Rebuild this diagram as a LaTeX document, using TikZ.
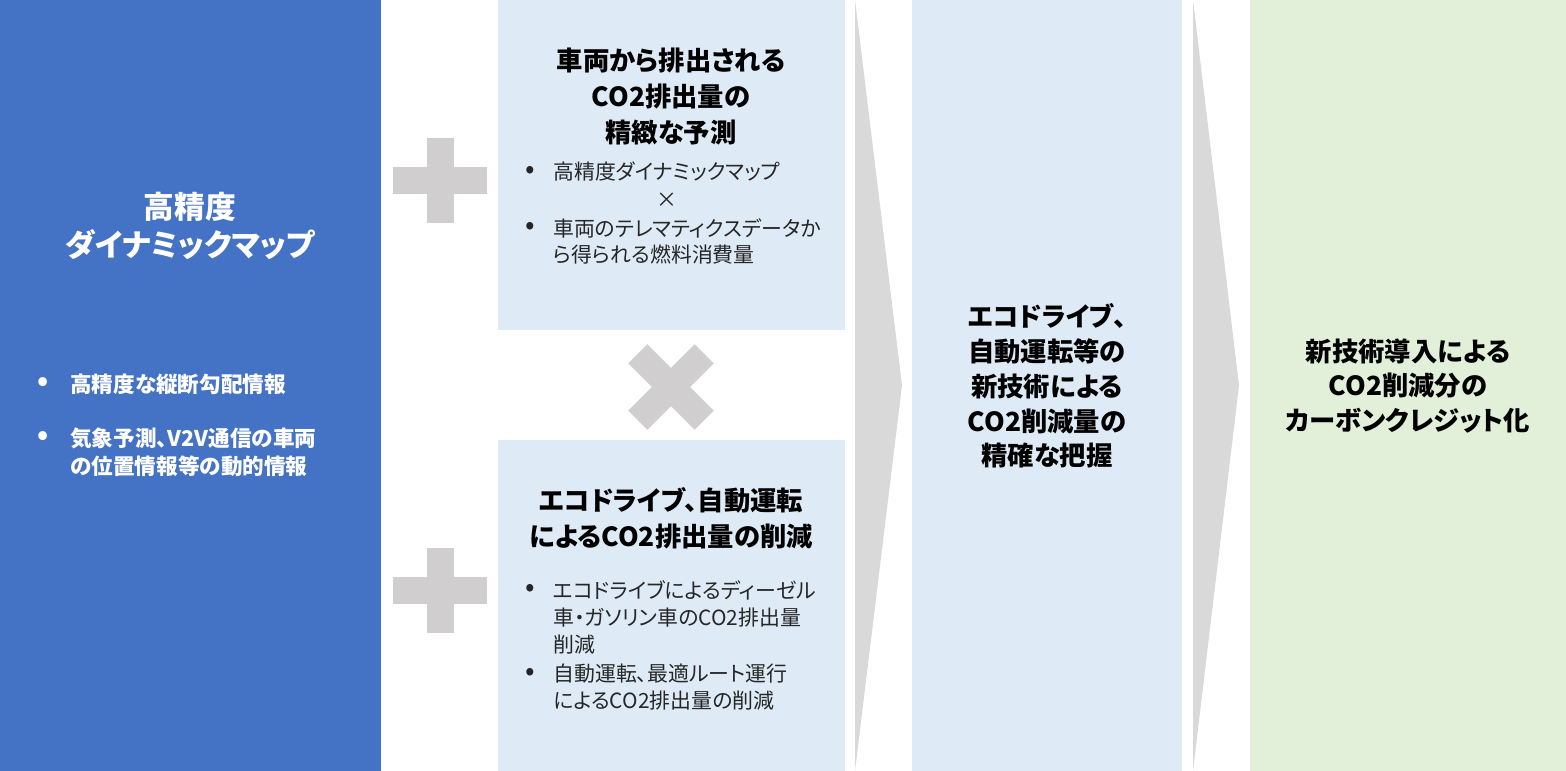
\documentclass[tikz,border=0pt]{standalone}
\usepackage{fontspec}
\setmainfont{Noto Sans CJK JP}[RawFeature=+palt]
\definecolor{mainblue}{HTML}{4472C4}
\definecolor{paleblue}{HTML}{DEEBF7}
\definecolor{palegreen}{HTML}{E2F0D9}
\definecolor{chev}{HTML}{D9D9D9}
\definecolor{opgray}{HTML}{D0CECE}
\tikzset{
  titletext/.style={font=\bfseries\fontsize{15}{20.5}\selectfont, align=center, text=black, inner sep=0pt},
  bodytext/.style={font=\fontsize{11.9}{15}\selectfont, text=black!85, inner sep=0pt, anchor=west},
  bultext/.style={font=\fontsize{16}{15}\selectfont, text=black!85, inner sep=0pt},
  crosstext/.style={font=\fontsize{11.9}{15}\selectfont, text=black!85, inner sep=0pt},
  whitebody/.style={font=\bfseries\fontsize{12.3}{15}\selectfont, text=white, inner sep=0pt, anchor=west},
  whitebul/.style={font=\bfseries\fontsize{16}{15}\selectfont, text=white, inner sep=0pt},
}
\begin{document}
\begin{tikzpicture}[x=0.02cm,y=-0.02cm]
\useasboundingbox (0,0) rectangle (1566,771);
% boxes
\fill[mainblue] (0,0) rectangle (381,771);
\fill[paleblue] (498,0) rectangle (845,330);
\fill[paleblue] (498,440) rectangle (845,771);
\fill[paleblue] (912,0) rectangle (1182,771);
\fill[palegreen] (1250,0) rectangle (1566,771);
% chevrons
\fill[chev] (855,0) -- (902,385.5) -- (855,771) -- cycle;
\fill[chev] (1193,0) -- (1239,385.5) -- (1193,771) -- cycle;
% plus signs
\foreach \cy in {180.5,590}{
  \fill[opgray] (393,\cy-13.5) rectangle (487,\cy+13.5);
  \fill[opgray] (426.5,\cy-42.5) rectangle (453.5,\cy+42.5);
}
% cross
\begin{scope}[shift={(671,387)},rotate=45]
  \fill[opgray] (-47,-13.5) rectangle (47,13.5);
  \fill[opgray] (-13.5,-47) rectangle (13.5,47);
\end{scope}
% left box texts
\node[font=\bfseries\fontsize{17.5}{21.5}\selectfont, align=center, text=white, inner sep=0pt] (lt) at (190,226) {高精度\\ダイナミックマップ};
\node[whitebul] (lb1) at (43,384) {•};
\node[whitebody] (l1) at (70,384) {高精度な縦断勾配情報};
\node[whitebul] (lb2) at (43,438) {•};
\node[whitebody] (l2) at (70,438) {気象予測、V2V通信の車両};
\node[whitebody] (l3) at (70,466) {の位置情報等の動的情報};
% top middle
\node[titletext] (tt) at (671,97) {車両から排出される\\CO2排出量の\\精緻な予測};
\node[bultext] (tb1) at (530,172) {•};
\node[bodytext] (t1) at (553,172) {高精度ダイナミックマップ};
\node[crosstext] (tx) at (667,200) {×};
\node[bultext] (tb2) at (530,228) {•};
\node[bodytext] (t2) at (553,228) {車両のテレマティクスデータか};
\node[bodytext] (t3) at (553,255) {ら得られる燃料消費量};
% bottom middle
\node[titletext] (bt) at (671,518) {エコドライブ、自動運転\\によるCO2排出量の削減};
\node[bultext] (bb1) at (530,590) {•};
\node[bodytext] (b1) at (553,590) {エコドライブによるディーゼル};
\node[bodytext] (b2) at (553,618) {車・ガソリン車のCO2排出量};
\node[bodytext] (b3) at (553,645) {削減};
\node[bultext] (bb2) at (530,674) {•};
\node[bodytext] (b4) at (553,674) {自動運転、最適ルート運行};
\node[bodytext] (b5) at (553,701) {によるCO2排出量の削減};
% third box
\node[titletext, font=\bfseries\fontsize{15}{19.8}\selectfont] (mt) at (1047,386) {エコドライブ、\\自動運転等の\\新技術による\\CO2削減量の\\精確な把握};
% green box
\node[titletext, font=\bfseries\fontsize{15}{19.6}\selectfont] (gt) at (1408,386) {新技術導入による\\CO2削減分の\\カーボンクレジット化};
\end{tikzpicture}
\end{document}
